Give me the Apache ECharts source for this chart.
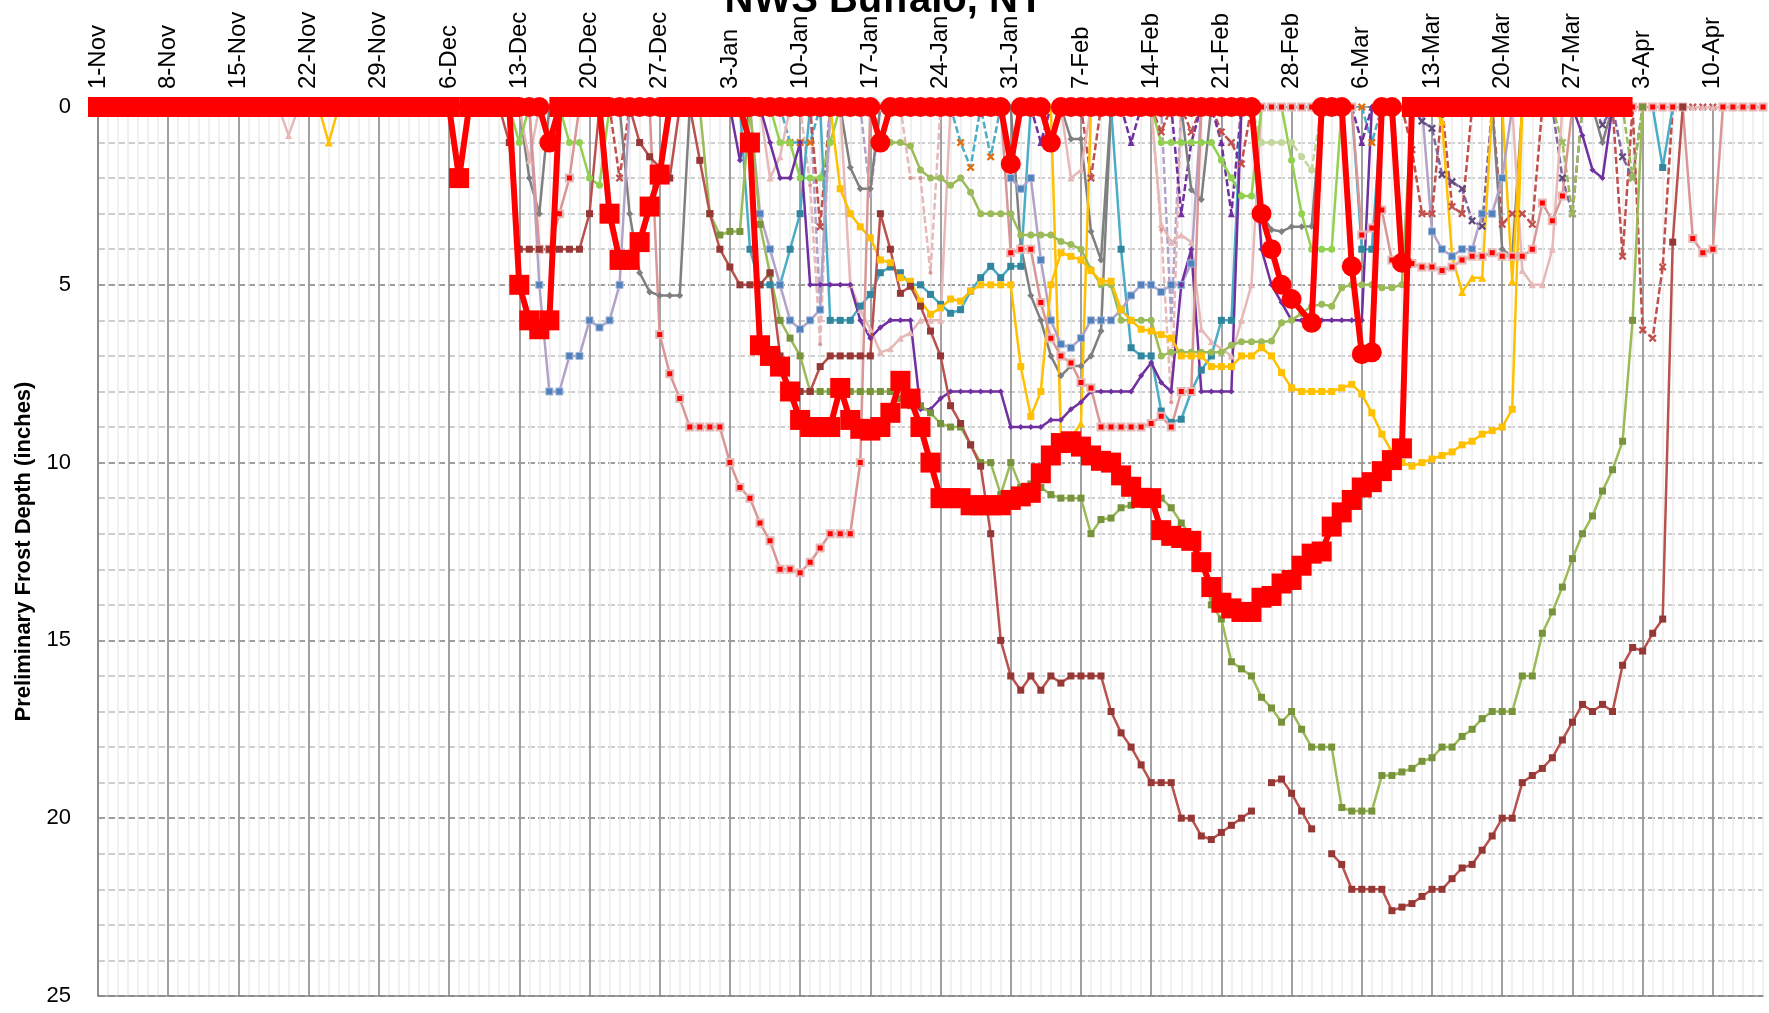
<!DOCTYPE html>
<html><head><meta charset="utf-8">
<script src="https://cdn.jsdelivr.net/npm/echarts/dist/echarts.min.js"></script>
<style>html,body{margin:0;padding:0;background:#fff;}#c{width:1769px;height:1013px;}</style>
</head><body><div id="c"></div>
<script>
// ---- x axis: one category per day from 1-Nov (index 0) to 15-Apr (index 166)
const dayCount = 167;
const tickLabels = ['1-Nov','8-Nov','15-Nov','22-Nov','29-Nov','6-Dec','13-Dec','20-Dec','27-Dec','3-Jan','10-Jan','17-Jan','24-Jan','31-Jan','7-Feb','14-Feb','21-Feb','28-Feb','6-Mar','13-Mar','20-Mar','27-Mar','3-Apr','10-Apr'];
const yTicks = [0,5,10,15,20,25];

// ---- series values (inches). Each entry: [first day index, [daily values]]
const redSquares = [
 [0,[0,0,0,0,0,0,0,0,0,0,0,0,0,0,0,0,0,0,0,0,0,0,0,0,0,0,0,0,0,0,0,0,0,0,0,0]],
 [36,[2.0,0,0,0,0,0,5.0,6.0,6.25,6.0,0,0,0,0,0,3.0,4.3,4.3,3.8,2.8,1.9,0,0,0,0,0,0,0,0]],
 [65,[1.0,6.7,7.0,7.3,8.0,8.8,9.0,9.0,9.0,7.9,8.8,9.05,9.1,9.0,8.6,7.7,8.2,9.0,10.0,11.0,11.0,11.0,11.2,11.2,11.2,11.2,11.05,10.95,10.85,10.3,9.8,9.45,9.4,9.55,9.8,9.95,10.0,10.36,10.68,10.99,11.0,11.9,12.06,12.12,12.2,12.8,13.5,13.94,14.1,14.2,14.2,13.8,13.75,13.4,13.3,12.9,12.56,12.5,11.8,11.4,11.05,10.7,10.55,10.24,9.93,9.6]],
 [131,[0,0,0,0,0,0,0,0,0,0,0,0,0,0,0,0,0,0,0,0,0,0]]
];
const redCircles = [
 [42,[0,0,0,1.0]],
 [46,[0,0,0,0,0,0,0,0,0,0,0,0,0,0,0,0,0,0,0,0,0,0,0,0,0,0,0,0,0,0,0,0,1.0]],
 [79,[0,0,0,0,0,0,0,0,0,0,0,0,1.6,0,0,0,1.0]],
 [96,[0,0,0,0,0,0,0,0,0,0,0,0,0,0,0,0,0,0,0,0]],
 [116,[3.0,4.0,5.0,5.4,null,6.07,0,0,0,4.48,6.95,6.9,0,0,4.38]]
];
const darkRed = [
 [40,[0,1.0,4.0,4.0,4.0,4.0,4.0,4.0,4.0,3.0,0,0,0,0,1.0,1.4,1.7,2.0,0,0,1.5,3.0,4.0,4.5,5.0,5.0,5.0,4.66,7.0,8.0,8.0,8.0,7.3,7.0,7.0,7.0,7.0,7.0,3.0,4.0,5.24,5.04,5.6,6.3,7.0,8.4,8.9,9.5,10.1,12.0,15.0,16.0,16.4,16.0,16.4,16.0,16.2,16.0,16.0,16.0,16.0,17.0,17.6,18.0,18.5,19.0,19.0,19.0,20.0,20.0,20.5,20.6,20.4,20.2,20.0,19.8]],
 [117,[19.0,18.9,19.3,19.8,20.3]],
 [123,[21.0,21.3,22.0,22.0,22.0,22.0,22.6,22.5,22.4,22.2,22.0,22.0,21.7,21.4,21.3,20.9,20.5,20.0,20.0,19.0,18.8,18.6,18.3,17.8,17.3,16.8,17.0,16.8,17.0,15.7,15.2,15.3,14.8,14.4,3.8,0]]
];
const olive = [
 [60,[0,3.0,3.6,3.5,3.5,0,3.3,4.7,6.0,6.5,7.0,8.0,8.0,8.0,8.0,8.0,8.0,8.0,8.0,8.0,8.2,8.4,8.4,8.6,8.9,9.0,9.0,9.5,10.0,10.0,10.9,10.0,10.7,10.6,10.7,10.9,11.0,11.0,11.0,12.0,11.6,11.56,11.27,11.2,11.1,11.0,11.0,11.27,11.7,12.06,12.7,14.0,14.4,15.6,15.8,16.0,16.6,16.9,17.3,17.0,17.5,18.0,18.0,18.0,19.7,19.8,19.8,19.8,18.8,18.8,18.7,18.6,18.4,18.3,18.0,18.0,17.7,17.5,17.2,17.0,17.0,17.0,16.0,16.0,14.8,14.2,13.5,12.7,12.0,11.5,10.8,10.2,9.4,6.0,0]]
];
const salmonDots = [
 [0,[0,0,0,0,0,0,0,0,0,0,0,0,0,0,0,0,0,0,0,0,0,0,0,0,0,0,0,0,0,0,0,0,0,0,0,0,0,0,0,0,0,0,0,0]],
 [44,[4.0,4.0,3.0,2.0,0,0,0,0,0,0,0,0]],
 [56,[6.4,7.5,8.2,9.0,9.0,9.0,9.0,10.0,10.7,11.0,11.7,12.2,13.0,13.0,13.1,12.8,12.4,12.0,12.0,12.0,10.0,0]],
 [78,[0,0,0,0,0,0,0,0,0,0,0,0,0]],
 [91,[4.1,4.0,4.0,5.5,6.5,7.0,7.2,7.75,7.9,9.0,9.0,9.0,9.0,9.0,8.9,8.7,9.0,8.0,8.0]],
 [110,[0,0,0,0,0,0,0,0,0,0,0,0,0,0,0,0]],
 [126,[3.6,3.4,2.9,4.3,4.4,4.4,4.5,4.5,4.6,4.5,4.3,4.2,4.2,4.1,4.2,4.2,4.2,4.0,2.7,3.2,2.5]],
 [147,[0,0,0,0,0,0,0,0,0,0,0,0,3.7,4.1,4.0,0,0,0,0,0]]
];
const pinkTri = [
 [18,[0,0.8,0]], [42,[0,1.5,0]], [66,[0,2.0,1.4,0]],
 [74,[0,5.0,5.7,6.25,6.9,6.8,6.5,6.35,6.0,6.0,6.0,0]],
 [96,[0,2.0,1.77,0]],
 [105,[0,3.3,3.8,3.6,3.8,6.25,6.6,6.8,7.0,6.0,5.0,0,0,0,0,0,0,0]],
 [141,[0,4.6,5.0,5.0,4.0,0,0,0,0,0,0,0,0,0,0,0,0,0,0,0,0,0,0,0,0,0]]
];
const lavenderBlue = [
 [43,[0,5.0,8.0,8.0,7.0,7.0,6.0,6.2,6.0,5.0,0]],
 [65,[0,3.0,4.0,5.0,6.0,6.25,6.0,5.7,0]],
 [90,[0,2.0,2.3,2.0,4.3,6.0,6.67,6.77,6.5,6.0,6.0,6.0,5.7,5.3,5.0,5.0,5.2,5.0,5.0,4.4,0]],
 [132,[0,3.5,4.0,4.2,4.0,4.0,3.0,3.0,2.0,0]]
];
const teal = [
 [64,[0,4.0,5.0,5.0,5.0,4.0,3.0,0,0,6.0,6.0,6.0,5.6,5.27,4.66,4.5,4.66,5.0,5.0,5.27,5.55,5.8,5.7,5.18,4.8,4.48,4.8,4.48,4.48,0]],
 [101,[0,4.0,6.77,7.0,7.0,8.55,8.87,8.78,8.0,7.4,7.0,6.0,6.0,0]],
 [125,[0,4.0,4.0,0]], [155,[0,1.7,0]]
];
const purple = [
 [63,[0,1.5,0,0,1.0,2.0,2.0,1.0,5.0,5.0,5.0,5.0,5.0,6.0,6.5,6.2,6.0,6.0,6.0,8.5,8.5,8.2,8.0,8.0,8.0,8.0,8.0,8.0,9.0,9.0,9.0,9.0,8.8,8.8,8.5,8.3,8.0,8.0,8.0,8.0,8.0,7.56,7.19,7.75,8.0,5.0,4.0,8.0,8.0,8.0,8.0,0,0,4.0,5.0,5.5,6.0,6.0,6.0,6.0,6.0,6.0,6.0,6.0,0]],
 [147,[0,0.8,1.77,2.0,0]]
];
const greenCircles = [
 [77,[0,1.0,1.0,1.0,1.1,1.77,2.0,2.0,2.2,2.0,2.4,3.0,3.0,3.0,3.0,3.6,3.6,3.6,3.6,3.78,3.87,4.0,4.57,5.0,5.0,6.0,6.0,6.0,6.0,7.0,6.9,6.9,6.9,6.9,6.9,6.9,6.7,6.6,6.6,6.6,6.58,6.07,6.0,5.8,5.6,5.55,5.6,5.08,5.0,5.0,5.0,5.08,5.08,5.0,0]]
];
const limeCircles = [
 [41,[0,1.0,0]], [46,[0,1.0,1.0,2.0,2.2,0]], [67,[0,1.0,1.0,2.0,2.0,2.0,1.0,0]],
 [105,[0,1.0,1.0,1.0,1.0,1.0,1.0,1.5,2.0,2.5,2.5,0]],
 [118,[0,1.5,3.0,4.0,4.0,4.0,0]]
];
const paleGreenDash = [ [115,[0,1.0,1.0,1.0,1.0,1.4,1.77,0]] ];
const gray = [
 [42,[0,2.0,3.0,0]], [52,[0,3.0,4.66,5.2,5.3,5.3,5.3,0]], [74,[0,1.7,2.3,2.3,0]],
 [91,[0,3.9,5.3,6.0,7.0,7.56,7.28,7.28,7.0,6.3,0]], [108,[0,2.33,2.6,0]],
 [115,[0,3.0,3.45,3.5,3.37,3.37,3.35,0]], [139,[0,4.0,4.2,0]], [149,[0,1.0,0]]
];
const grayB = [ [96,[0,0.9,0.9,3.5,4.3,0]] ];
const gold = [
 [73,[0,2.3,3.0,3.37,3.68,4.3,4.38,4.8,4.9,5.46,5.83,5.65,5.4,5.46,5.18,5.0,5.0,5.0,5.0,7.3,8.7,8.0,5.0,4.1,4.2,4.3,4.6,4.9,4.9,5.7,6.0,6.25,6.3,6.4,6.5,7.0,7.0,7.0,7.3,7.3,7.3,7.0,7.0,6.77,7.0,7.47,7.9,8.0,8.0,8.0,8.0,7.9,7.8,8.07,8.6,9.2,9.7,10.0,10.1,10.0,9.9,9.8,9.7,9.5,9.4,9.2,9.1,9.0,8.5,0]]
];
const goldTri = [ [22,[0,1.0,0]], [95,[0,9.2,9.3,8.9,0]], [133,[0,0.4,4.2,5.2,4.8,4.8,0]], [140,[0,4.9,0]] ];
const purpleDash = [ [93,[0,1.0,0]], [102,[0,1.0,0]], [107,[0,3.0,1.0,0]], [111,[0,1.0,3.0,0]], [125,[0,1.0,0]] ];
const cyanDash = [ [68,[0,1.0,1.0,1.0,0]], [85,[0,1.0,1.7,0,1.4,0]], [126,[0,1.0,0]] ];
const redDash = [
 [51,[0,2.0,0]], [71,[0,3.37,0]], [98,[0,2.0,0]], [105,[0,0.7,0,0,0.7,0,0,0.7,1.0,1.6,0,0,0,0,0,0,0,0]],
 [130,[0,1.2,3.0,3.0,0,2.8,3.0,0]], [139,[0,3.3,3.0,3.0,3.3,0]],
 [151,[0,4.2,0,6.27,6.5,4.5,0,0,0,0,0,0,0,0,0,0]]
];
const plumX = [ [131,[0,0.4,0.6,1.9,2.1,2.3,3.2,3.35,0]], [145,[0,2.0,3.0,0]], [149,[0,0.5,0,1.4,2.0,0]] ];
const greenDash = [ [145,[0,1.0,3.0,0]], [152,[0,2.0,0]] ];
const lavenderDash = [ [71,[0,5.7,0]], [76,[0,2.5,0]], [106,[0,6.0,0]] ];
const pinkDash = [ [70,[0,2.2,6.67,0]], [80,[0,2.0,2.0,4.66,0]], [105,[0,3.45,8.3,0]] ];

// ---- build full-length arrays
const days = [];
for (let i = 0; i < dayCount; i++) days.push(i);
function build(segs) {
  const arr = days.map(() => null);
  segs.forEach(([s, vals]) => vals.forEach((v, i) => { arr[s + i] = v; }));
  return arr;
}
const XSYM = 'path://M2,0 L5,3 L8,0 L10,2 L7,5 L10,8 L8,10 L5,7 L2,10 L0,8 L3,5 L0,2 Z';
function line(name, segs, color, o) {
  o = o || {};
  return {
    name, type: 'line', data: build(segs), xAxisIndex: 0, yAxisIndex: 0,
    symbol: o.symbol || 'rect', symbolSize: o.size || 7, showAllSymbol: true,
    connectNulls: !!o.connect, silent: true, z: o.z || 2,
    lineStyle: { color, width: o.width || 2.5, type: o.dash ? [7, 3] : 'solid' },
    itemStyle: { color: o.fill || color, borderColor: o.border || o.fill || color, borderWidth: o.bw || 0 },
    emphasis: { disabled: true }
  };
}

const series = [
  line('lavenderDash', lavenderDash, '#B3A2C7', { dash: true, symbol: 'circle', size: 4 }),
  line('pinkDash', pinkDash, '#E6B9B8', { dash: true, symbol: 'circle', size: 4, fill: '#D99694' }),
  line('cyanDash', cyanDash, '#4BACC6', { dash: true, symbol: XSYM, size: 8, fill: '#E46C0A' }),
  line('redDash', redDash, '#C0504D', { dash: true, symbol: XSYM, size: 8 }),
  line('plumX', plumX, '#8064A2', { dash: true, symbol: XSYM, size: 8, fill: '#604A7B' }),
  line('greenDash', greenDash, '#9BBB59', { dash: true, symbol: XSYM, size: 8 }),
  line('purpleDash', purpleDash, '#7030A0', { dash: true, symbol: 'triangle', size: 7 }),
  line('paleGreenDash', paleGreenDash, '#C3D69B', { dash: true, symbol: 'circle', size: 7 }),
  line('grayB', grayB, '#7F7F7F', { symbol: 'diamond', size: 7 }),
  line('gray', gray, '#7F7F7F', { symbol: 'diamond', size: 7 }),
  line('pinkTri', pinkTri, '#E6B9B8', { symbol: 'triangle', size: 7 }),
  line('limeCircles', limeCircles, '#92D050', { symbol: 'circle', size: 7 }),
  line('goldTri', goldTri, '#FFC000', { symbol: 'triangle', size: 8 }),
  line('teal', teal, '#4BACC6', { fill: '#31859C', size: 7 }),
  line('lavenderBlue', lavenderBlue, '#B3A2C7', { fill: '#4F81BD', border: '#A6B6D8', bw: 1, size: 7 }),
  line('purple', purple, '#7030A0', { symbol: 'diamond', size: 6 }),
  line('greenCircles', greenCircles, '#9BBB59', { symbol: 'circle', size: 7 }),
  line('gold', gold, '#FFC000', { size: 7 }),
  line('salmonDots', salmonDots, '#D99694', { fill: '#FF0000', border: '#E6B9B8', bw: 2, size: 7 }),
  line('olive', olive, '#9BBB59', { fill: '#77933C', size: 7 }),
  line('darkRed', darkRed, '#B9514E', { fill: '#953735', size: 7 }),
  line('redCircles', redCircles, '#FF0000', { symbol: 'circle', size: 20, width: 6, connect: true, z: 5 }),
  line('redSquares', redSquares, '#FF0000', { symbol: 'rect', size: 20, width: 6, z: 6 })
];

const chart = echarts.init(document.getElementById('c'), null, { renderer: 'canvas' });
chart.setOption({
  animation: false,
  backgroundColor: '#fff',
  textStyle: { fontFamily: 'Liberation Sans' },
  title: {
    text: 'NWS Buffalo, NY', left: 'center', top: -24,
    textStyle: { fontSize: 40, fontWeight: 'bold', color: '#000', fontFamily: 'Liberation Sans' }
  },
  grid: { left: 98, right: 6, top: 107, bottom: 17, containLabel: false },
  xAxis: [
    {
      type: 'category', data: days, boundaryGap: false, position: 'top', z: 2,
      axisLine: { show: true, lineStyle: { color: '#868686', width: 1.5 } },
      axisTick: { show: false },
      axisLabel: {
        interval: 6, rotate: 90, margin: 18, fontSize: 24, color: '#000',
        formatter: (v, i) => tickLabels[Math.round(i / 7)] || ''
      },
      splitLine: { show: true, interval: 6, lineStyle: { color: '#878787', width: 1.5 } }
    },
    {
      type: 'category', data: days, boundaryGap: false, position: 'bottom', z: 0,
      axisLine: { show: true, lineStyle: { color: '#868686', width: 1.5 } },
      axisTick: { show: false }, axisLabel: { show: false },
      splitLine: { show: true, interval: 0, lineStyle: { color: '#EBEBEB', width: 1.5 } }
    }
  ],
  yAxis: {
    type: 'value', inverse: true, min: yTicks[0], max: yTicks[yTicks.length - 1], interval: 5,
    name: 'Preliminary Frost Depth (inches)', nameLocation: 'middle', nameGap: 63, nameRotate: 90,
    nameTextStyle: { fontSize: 22, fontWeight: 'bold', color: '#000' },
    axisLine: { show: true, lineStyle: { color: '#868686', width: 1.5 } },
    axisTick: { show: false },
    axisLabel: { fontSize: 22, color: '#000', margin: 27 },
    splitLine: { show: true, lineStyle: { color: '#7F7F7F', width: 1.5, type: [7, 3] } },
    minorTick: { show: false, splitNumber: 5 },
    minorSplitLine: { show: true, lineStyle: { color: '#BDBDBD', width: 1.5, type: [7, 3] } }
  },
  series
});
</script></body></html>
